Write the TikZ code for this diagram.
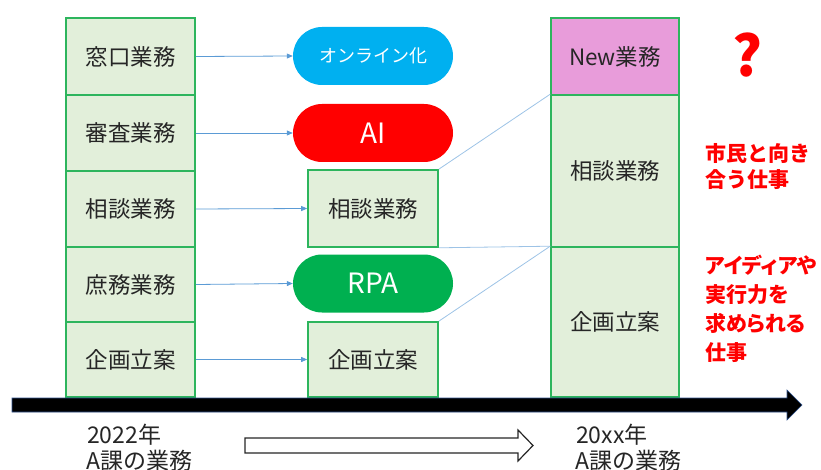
\documentclass[tikz,border=0pt]{standalone}
\usepackage{fontspec}
\setmainfont{Noto Sans CJK JP}
\usetikzlibrary{arrows.meta}
\definecolor{boxfill}{HTML}{E2EFDA}
\definecolor{boxline}{HTML}{2DB55D}
\definecolor{pinkfill}{HTML}{E89CDA}
\definecolor{cyanblob}{HTML}{00B0F0}
\definecolor{redblob}{HTML}{FF0000}
\definecolor{greenblob}{HTML}{00B050}
\definecolor{conn}{HTML}{5B9BD5}
\definecolor{thin}{HTML}{9DC3E6}
\definecolor{txt}{HTML}{262626}
\begin{document}
\begin{tikzpicture}[x=1pt,y=-1pt,
  cell/.style={draw=boxline, line width=1.6pt, fill=boxfill, minimum width=129pt, inner sep=0pt, text=txt, font=\fontsize{22.5}{26}\selectfont},
  blob/.style={rounded corners=29pt, minimum width=160pt, minimum height=58pt, inner sep=0pt, text=white},
  conarrow/.style={draw=conn, line width=0.8pt, -{Triangle[length=6pt,width=5pt]}},
  thinline/.style={draw=thin, line width=0.8pt},
  redtxt/.style={text=red, font=\fontsize{21}{26}\selectfont\bfseries, align=left, anchor=west, inner sep=0pt},
  bottxt/.style={text=txt, font=\fontsize{23}{26}\selectfont, anchor=west, inner sep=0pt}
]
\useasboundingbox (0,0) rectangle (821,470);
% left column
\node[cell, minimum height=77pt] (L1) at (130.5,56.5) {窓口業務};
\node[cell, minimum height=76pt] (L2) at (130.5,133) {審査業務};
\node[cell, minimum height=76pt] (L3) at (130.5,209) {相談業務};
\node[cell, minimum height=75pt] (L4) at (130.5,284.5) {庶務業務};
\node[cell, minimum height=75pt] (L5) at (130.5,359.5) {企画立案};
% middle
\node[blob, fill=cyanblob, font=\fontsize{18}{20}\selectfont] (B1) at (373,56) {オンライン化};
\node[blob, fill=redblob, font=\fontsize{28}{30}\selectfont] (B2) at (373,133) {AI};
\node[cell, minimum width=130pt, minimum height=77pt] (M1) at (373,208.5) {相談業務};
\node[blob, fill=greenblob, font=\fontsize{28}{30}\selectfont] (B3) at (373,283.5) {RPA};
\node[cell, minimum width=130pt, minimum height=75pt] (M2) at (373,359.5) {企画立案};
% right column
\node[cell, fill=pinkfill, minimum width=128pt, minimum height=77pt] (R1) at (615,56.5) {New業務};
\node[cell, minimum width=128pt, minimum height=152pt] (R2) at (615,171) {相談業務};
\node[cell, minimum width=128pt, minimum height=150pt] (R3) at (615,322) {企画立案};
% connectors
\draw[conarrow] (L1.east) -- (B1.west);
\draw[conarrow] (L2.east) -- (B2.west);
\draw[conarrow] (L3.east) -- (M1.west);
\draw[conarrow] (L4.east) -- (B3.west);
\draw[conarrow] (L5.east) -- (M2.west);
\draw[thinline] (M1.north east) -- (R2.north west);
\draw[thinline] (M1.south east) -- (R3.north west);
\draw[thinline] (M2.north east) -- (R3.north west);
% time axis
\coordinate (AxT) at (802,405);
\fill[black, draw={rgb,255:red,47;green,82;blue,143}, line width=0.6pt]
  (12,398) -- (787,398) -- (787,390) -- (AxT) -- (787,420) -- (787,412) -- (12,412) -- cycle;
% hollow arrow
\draw[fill=white, draw=txt, line width=1.2pt]
  (245,438) -- (518,438) -- (518,430) -- (533,445.5) -- (518,461) -- (518,453) -- (245,453) -- cycle;
% right texts
\node[text=red, font=\fontsize{56}{60}\selectfont\bfseries, inner sep=0pt] (Q) at (747,55) {?};
\node[redtxt] (T1) at (705,167) {市民と向き\\合う仕事};
\node[redtxt, font=\fontsize{21}{29}\selectfont\bfseries\addfontfeature{RawFeature=+palt}] (T2) at (705,309) {アイディアや\\実行力を\\求められる\\仕事};
% bottom texts
\node[bottxt] (Y1) at (87,435) {2022年};
\node[bottxt] (D1) at (86,461) {A課の業務};
\node[bottxt] (Y2) at (576,435) {20xx年};
\node[bottxt] (D2) at (575,461) {A課の業務};
\end{tikzpicture}
\end{document}
